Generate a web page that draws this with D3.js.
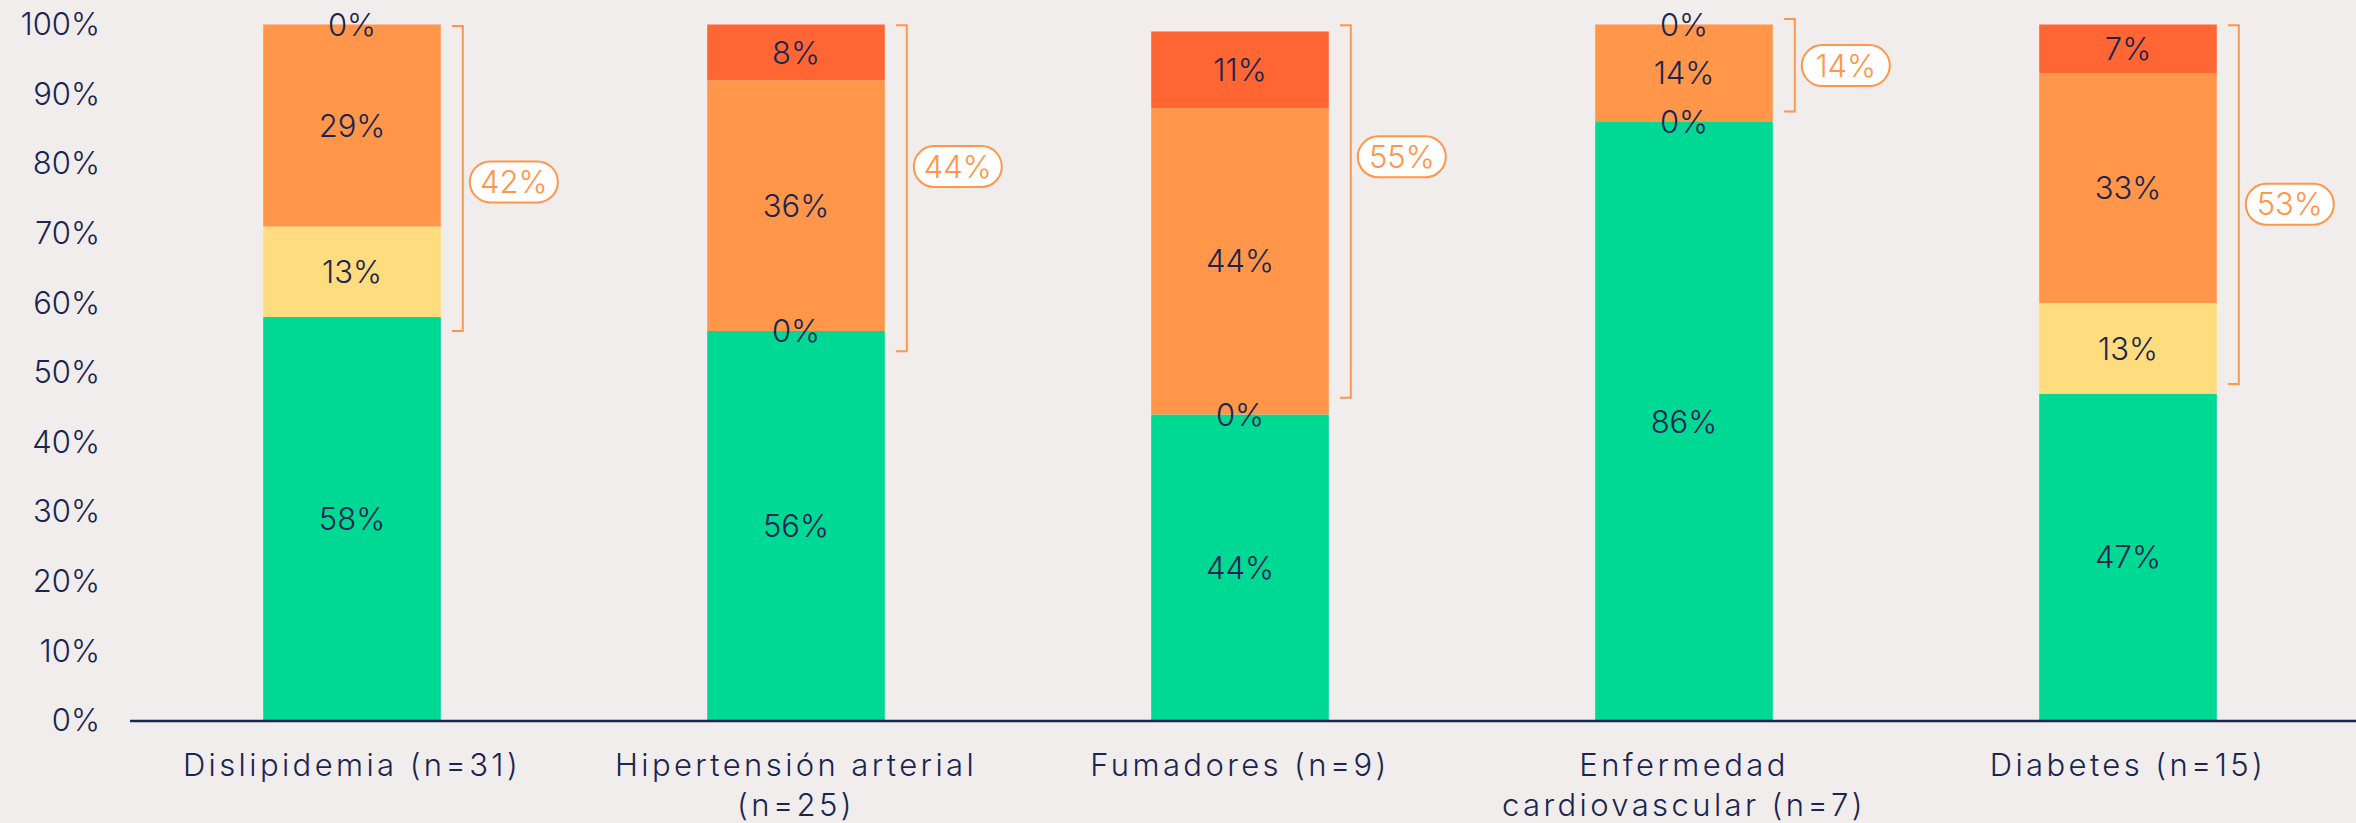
<!DOCTYPE html>
<html lang="es">
<head>
  <meta charset="UTF-8">
  <title>Stacked bars</title>
  <script src="https://cdn.jsdelivr.net/npm/d3@7"></script>
  <style>
    html, body { margin: 0; padding: 0; background: #f1edec; }
    svg { display: block; }
    text { font-family: Inter, "Noto Sans", sans-serif; font-weight: 300; }
    .axis text { font-size: 31px; fill: #1a2550; }
    .xaxis text { letter-spacing: 3.4px; }
  </style>
</head>
<body>
<script>
// categories and series (% of patients)
var categories = ["Dislipidemia (n=31)", "Hipertensión arterial\n(n=25)", "Fumadores (n=9)",
                  "Enfermedad\ncardiovascular (n=7)", "Diabetes (n=15)"];
var seriesGreen  = [58, 56, 44, 86, 47];
var seriesYellow = [13, 0, 0, 0, 13];
var seriesOrange = [29, 36, 44, 14, 33];
var seriesRed    = [0, 8, 11, 0, 7];

// bracket annotations (value shown + extent on the % axis)
var bracketValues = [42, 44, 55, 14, 53];
var bracketTop    = [99.8, 99.9, 99.9, 100.8, 99.9];
var bracketBottom = [56.0, 53.1, 46.4, 87.5, 48.4];
var pillLevel     = [77.4, 79.6, 81.0, 94.1, 74.2];

var yTicks = [0, 10, 20, 30, 40, 50, 60, 70, 80, 90, 100];

var keys = ["green", "yellow", "orange", "red"];
var colors = { green: "#00d994", yellow: "#ffdc7d", orange: "#ff964a", red: "#ff6633" };
var navy = "#1a2550";

var rows = categories.map(function(c, i) {
  return { cat: c, green: seriesGreen[i], yellow: seriesYellow[i], orange: seriesOrange[i], red: seriesRed[i], i: i };
});

var w = 2356, h = 823;

var svg = d3.select("body").append("svg")
  .attr("width", w)
  .attr("height", h);

svg.append("rect").attr("width", w).attr("height", h).attr("fill", "#f1edec");

var xScale = d3.scaleBand()
  .domain(categories)
  .range([130, 2350])
  .paddingInner(0.6)
  .paddingOuter(0.3);

var yScale = d3.scaleLinear()
  .domain([0, 100])
  .range([721, 24.5]);

var stacked = d3.stack().keys(keys)(rows);

// bars
var layers = svg.selectAll("g.layer")
  .data(stacked)
  .enter().append("g")
  .attr("class", "layer")
  .attr("fill", function(d) { return colors[d.key]; });

layers.selectAll("rect")
  .data(function(d) { return d; })
  .enter().append("rect")
  .attr("x", function(d) { return xScale(d.data.cat); })
  .attr("y", function(d) { return yScale(d[1]); })
  .attr("width", xScale.bandwidth())
  .attr("height", function(d) { return yScale(d[0]) - yScale(d[1]); });

// y axis
var yAxis = d3.axisLeft(yScale)
  .tickValues(yTicks)
  .tickFormat(function(d) { return d + "%"; })
  .tickSize(0)
  .tickPadding(0);

svg.append("g")
  .attr("class", "axis")
  .attr("transform", "translate(100,0)")
  .call(yAxis)
  .call(function(g) { g.select(".domain").remove(); });

// x axis
var xAxis = d3.axisBottom(xScale)
  .tickSize(0)
  .tickPadding(33);

var gx = svg.append("g")
  .attr("class", "axis xaxis")
  .attr("transform", "translate(0," + yScale(0) + ")")
  .call(xAxis);

gx.select(".domain").remove();
gx.append("line")
  .attr("x1", xScale.range()[0])
  .attr("x2", w)
  .attr("stroke", navy)
  .attr("stroke-width", 2.5);

gx.selectAll(".tick text").each(function(d) {
  var t = d3.select(this);
  var lines = d.split("\n");
  t.text(null);
  lines.forEach(function(line, k) {
    t.append("tspan")
      .attr("x", 0)
      .attr("dy", k === 0 ? "0.71em" : "1.3em")
      .text(line);
  });
});

// segment value labels (drawn after every bar so zero segments stay visible)
var segs = [];
stacked.forEach(function(layer) {
  layer.forEach(function(d) { segs.push(d); });
});

svg.append("g").selectAll("text")
  .data(segs)
  .enter().append("text")
  .attr("x", function(d) { return xScale(d.data.cat) + xScale.bandwidth() / 2; })
  .attr("y", function(d) { return yScale((d[0] + d[1]) / 2); })
  .attr("dy", "0.36em")
  .attr("text-anchor", "middle")
  .attr("font-size", 31)
  .attr("fill", navy)
  .text(function(d) { return (d[1] - d[0]) + "%"; });

// brackets + pills
var ann = svg.selectAll("g.bracket")
  .data(rows)
  .enter().append("g")
  .attr("class", "bracket");

ann.append("path")
  .attr("fill", "none")
  .attr("stroke", colors.orange)
  .attr("stroke-width", 2)
  .attr("d", function(d) {
    var x0 = xScale(d.cat) + xScale.bandwidth() + 11,
        x1 = x0 + 11,
        y0 = yScale(bracketTop[d.i]),
        y1 = yScale(bracketBottom[d.i]);
    return "M" + x0 + "," + y0 + "H" + x1 + "V" + y1 + "H" + x0;
  });

var pillW = 88, pillH = 41;

ann.append("rect")
  .attr("x", function(d) { return xScale(d.cat) + xScale.bandwidth() + 29; })
  .attr("y", function(d) { return yScale(pillLevel[d.i]) - pillH / 2; })
  .attr("width", pillW)
  .attr("height", pillH)
  .attr("rx", pillH / 2)
  .attr("fill", "#ffffff")
  .attr("stroke", colors.orange)
  .attr("stroke-width", 2);

ann.append("text")
  .attr("x", function(d) { return xScale(d.cat) + xScale.bandwidth() + 29 + pillW / 2; })
  .attr("y", function(d) { return yScale(pillLevel[d.i]); })
  .attr("dy", "0.36em")
  .attr("text-anchor", "middle")
  .attr("font-size", 31)
  .attr("fill", colors.orange)
  .text(function(d) { return bracketValues[d.i] + "%"; });
</script>
</body>
</html>
